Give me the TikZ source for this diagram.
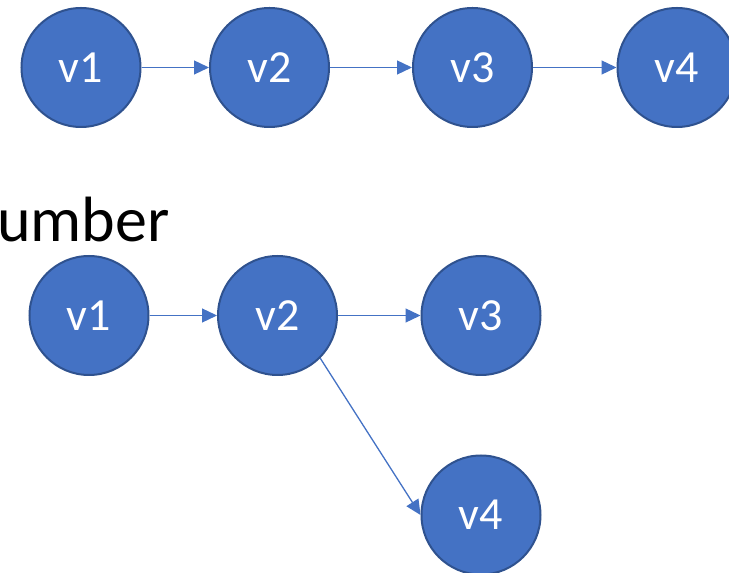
\documentclass[tikz,border=0pt]{standalone}
\usepackage{fontspec}
\setmainfont{Carlito}
\usetikzlibrary{arrows.meta}
\definecolor{fillblue}{HTML}{4472C4}
\definecolor{edgeblue}{HTML}{2F528F}
\begin{document}
\begin{tikzpicture}[x=1pt,y=1pt,
  vert/.style={circle,fill=fillblue,draw=edgeblue,line width=2pt,minimum size=119pt,inner sep=0pt,text=white,font=\fontsize{46}{50}\selectfont},
  conn/.style={draw=fillblue,line width=1.3pt,-{Triangle[length=15pt,width=14pt]}}]
\useasboundingbox (0,0) rectangle (729,573);
% top row
\node[vert] (a1) at (81,505.5) {v1};
\node[vert] (a2) at (269.5,505.5) {v2};
\node[vert] (a3) at (472.5,505.5) {v3};
\node[vert] (a4) at (677,505.5) {v4};
\draw[conn] (a1) -- (a2);
\draw[conn] (a2) -- (a3);
\draw[conn] (a3) -- (a4);
% label
\node[anchor=base west,inner sep=0pt,font=\fontsize{64}{70}\selectfont] (lbl) at (-3,331) {umber};
% bottom tree
\node[vert] (b1) at (89,257.5) {v1};
\node[vert] (b2) at (277.5,257.5) {v2};
\node[vert] (b3) at (481,257.5) {v3};
\node[vert] (b4) at (481,58) {v4};
\draw[conn] (b1) -- (b2);
\draw[conn] (b2) -- (b3);
\draw[conn] (b2.-45) -- (b4.west);
\end{tikzpicture}
\end{document}
